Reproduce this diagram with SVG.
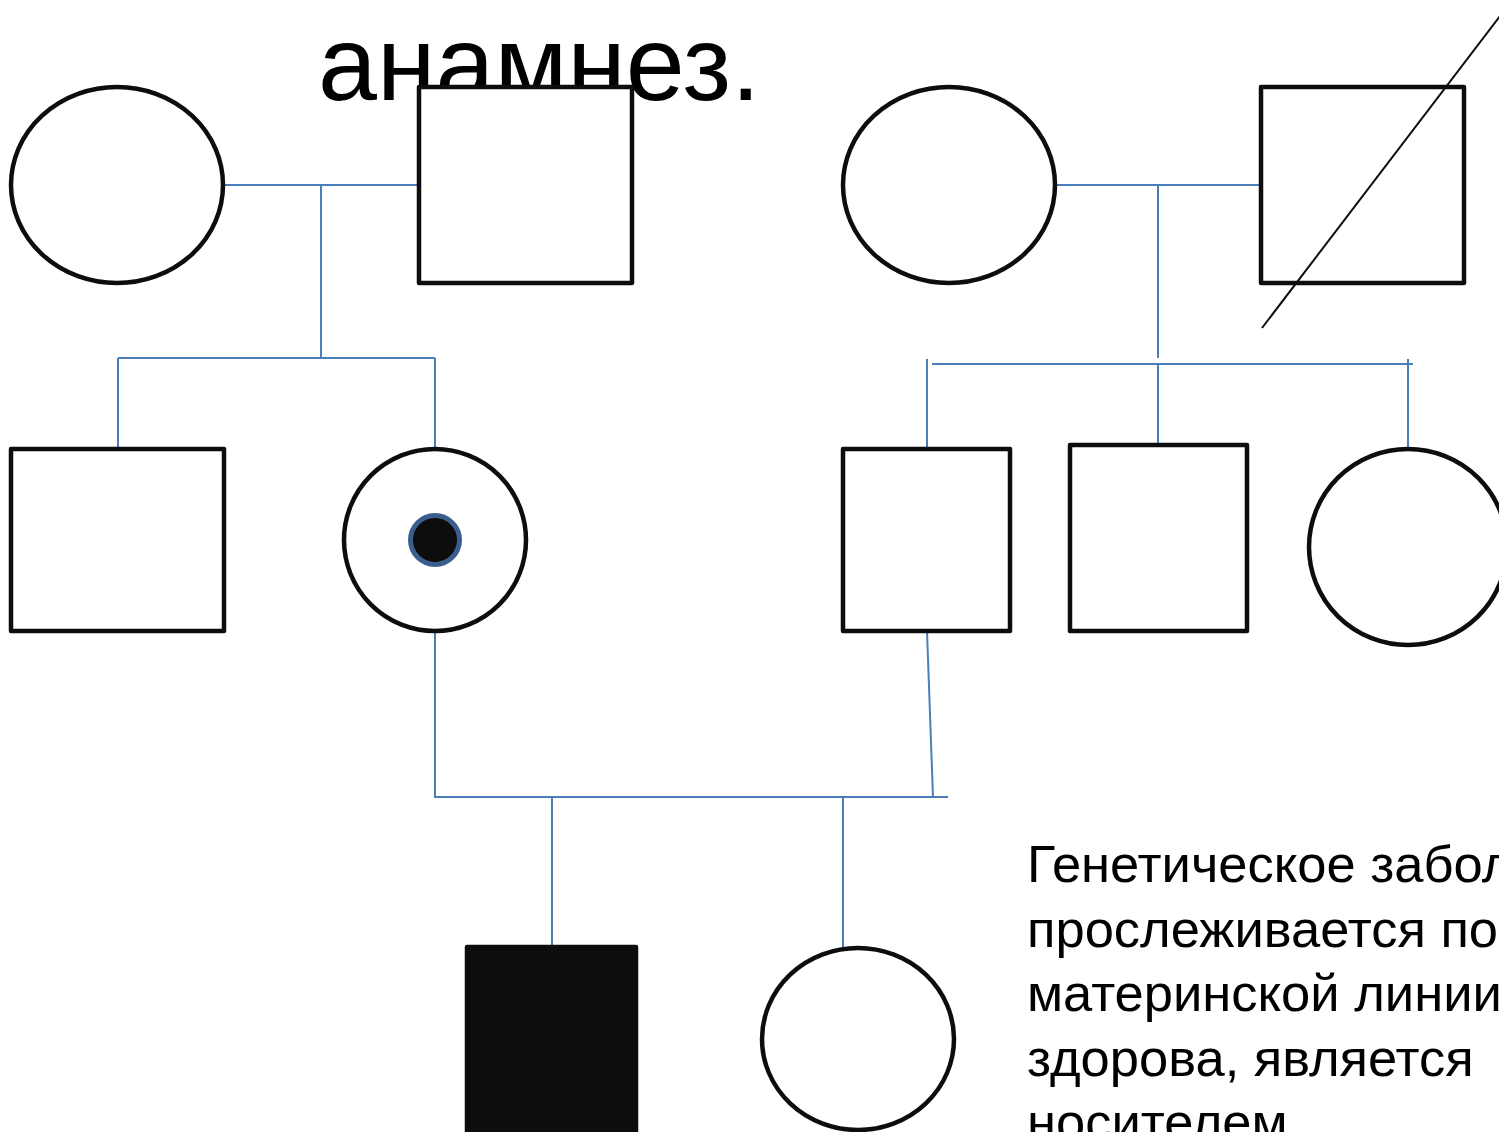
<svg xmlns="http://www.w3.org/2000/svg" width="1499" height="1132" viewBox="0 0 1499 1132">
<style>
.n{fill:#fff;stroke:#0d0d0d;stroke-width:4.5;stroke-linejoin:round}
.a{fill:#0d0d0d;stroke:#0d0d0d;stroke-width:4.5;stroke-linejoin:round}
.c{fill:none;stroke:#4a7ebb;stroke-width:2}
.t{font-family:"Liberation Sans",Arial,sans-serif;fill:#000}
</style>
<rect width="1499" height="1132" fill="#fff"/>
<text class="t" x="318" y="100" font-size="106">анамнез.</text>
<g id="connectors">
<path class="c" d="M223 185H419M321 185V358M118 358H435M118 358V449M435 358V449"/>
<path class="c" d="M1055 185H1261M1158 185V358M932 364H1413M927 359V449M1158 364V445M1408 359V449"/>
<path class="c" d="M435 631V797H948M927 631L933 797M552 797V947M843 797V947"/>
</g>
<g id="grandmother1"><ellipse class="n" cx="117" cy="185" rx="106" ry="98"/></g>
<g id="grandfather1"><rect class="n" x="419" y="87" width="213" height="196"/></g>
<g id="grandmother2"><ellipse class="n" cx="949" cy="185" rx="106" ry="98"/></g>
<g id="grandfather2"><rect class="n" x="1261" y="87" width="203" height="196"/><line x1="1262" y1="328" x2="1500" y2="16" stroke="#0d0d0d" stroke-width="2"/></g>
<g id="uncle"><rect class="n" x="11" y="449" width="213" height="182"/></g>
<g id="mother"><circle class="n" cx="435" cy="540" r="91"/><circle cx="435" cy="540" r="24.5" fill="#0d0d0d" stroke="#3a5f8f" stroke-width="5"/></g>
<g id="father"><rect class="n" x="843" y="449" width="167" height="182"/></g>
<g id="brother"><rect class="n" x="1070" y="445" width="177" height="186"/></g>
<g id="sister"><ellipse class="n" cx="1408" cy="547" rx="99" ry="98"/></g>
<g id="son"><rect class="a" x="467" y="947" width="169" height="190"/></g>
<g id="daughter"><ellipse class="n" cx="858" cy="1039" rx="96" ry="91"/></g>
<g id="note">
<text class="t" font-size="52.5">
<tspan x="1027" y="882">Генетическое заболевание</tspan>
<tspan x="1027" y="947">прослеживается по</tspan>
<tspan x="1027" y="1011">материнской линии</tspan>
<tspan x="1027" y="1076">здорова, является</tspan>
<tspan x="1027" y="1140">носителем.</tspan>
</text>
</g>
</svg>
